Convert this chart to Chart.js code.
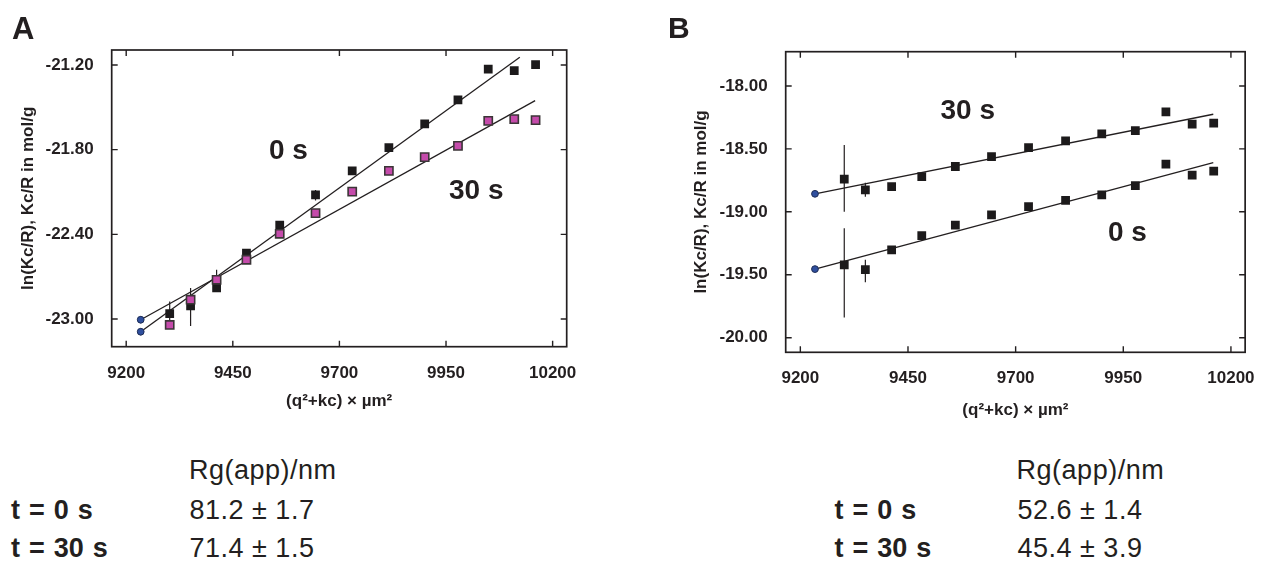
<!DOCTYPE html>
<html><head><meta charset="utf-8">
<script src="https://cdn.jsdelivr.net/npm/chart.js@4/dist/chart.umd.min.js"></script>
<style>
html,body{margin:0;padding:0;background:#fff;}
body{width:1263px;height:562px;position:relative;overflow:hidden;font-family:"Liberation Sans",Arial,sans-serif;color:#231f20;}
canvas{position:absolute;}
.t{position:absolute;line-height:1;white-space:nowrap;}
.b{font-weight:bold;}
.r{font-size:27px;letter-spacing:0.5px;}
.rb{font-size:27px;font-weight:bold;word-spacing:1.5px;}
</style></head><body>
<canvas id="cA" width="620" height="430" style="left:0;top:0"></canvas>
<canvas id="cB" width="623" height="430" style="left:640px;top:0"></canvas>

<div class="t b" style="left:12px;top:12.6px;font-size:31px">A</div>
<div class="t b" style="left:668px;top:12.8px;font-size:30px">B</div>
<div class="t b" style="left:269px;top:136.3px;font-size:28px">0 s</div>
<div class="t b" style="left:449px;top:176.3px;font-size:28px">30 s</div>
<div class="t b" style="left:940.5px;top:96.3px;font-size:28px">30 s</div>
<div class="t b" style="left:1108px;top:218px;font-size:28px">0 s</div>

<div class="t r" style="left:189px;top:457.1px">Rg(app)/nm</div>
<div class="t rb" style="left:11px;top:497.1px">t = 0 s</div>
<div class="t r" style="left:189.5px;top:497.1px">81.2 ± 1.7</div>
<div class="t rb" style="left:11px;top:535.4px">t = 30 s</div>
<div class="t r" style="left:189.5px;top:535.4px">71.4 ± 1.5</div>

<div class="t r" style="left:1016.6px;top:457.1px">Rg(app)/nm</div>
<div class="t rb" style="left:834.5px;top:497.1px">t = 0 s</div>
<div class="t r" style="left:1017.5px;top:497.1px">52.6 ± 1.4</div>
<div class="t rb" style="left:834.5px;top:535.4px">t = 30 s</div>
<div class="t r" style="left:1017.5px;top:535.4px">45.4 ± 3.9</div>

<script>
// ---- data ----
const qX = [9302, 9351, 9412, 9482, 9560, 9644, 9730, 9816, 9900, 9978, 10049, 10110, 10160];
const qX0 = 9234;
const xTicks = [9200, 9450, 9700, 9950, 10200];
const yTicksA = [-23.0, -22.4, -21.8, -21.2];
const yTicksB = [-20.0, -19.5, -19.0, -18.5, -18.0];

const a0s  = [-22.962, -22.906, -22.780, -22.533, -22.334, -22.120, -21.950, -21.785, -21.618, -21.448, -21.230, -21.240, -21.198];
const a30s = [-23.042, -22.863, -22.722, -22.580, -22.396, -22.250, -22.097, -21.950, -21.853, -21.773, -21.596, -21.584, -21.591];
const aExtrap = [-23.090, -23.005];           // 0 s, 30 s at q = 0 extrapolation
const aFit0X = [9234, 10123], aFit0Y = [-23.090, -21.146];
const aFit30X = [9234, 10159], aFit30Y = [-23.005, -21.453];
const aErrX = [9302, 9351, 9412, 9644, 9234, 9234];
const aErrLo = [-23.03, -23.05, -22.78, -22.16, -23.115, -23.03];
const aErrHi = [-22.875, -22.78, -22.65, -22.085, -23.065, -22.98];

const b30s = [-18.740, -18.825, -18.799, -18.720, -18.640, -18.561, -18.490, -18.437, -18.381, -18.355, -18.206, -18.304, -18.296];
const b0s  = [-19.421, -19.460, -19.302, -19.190, -19.106, -19.024, -18.958, -18.910, -18.865, -18.791, -18.621, -18.709, -18.677];
const bExtrap = [-19.455, -18.857];           // 0 s, 30 s
const bFit0X = [9234, 10159], bFit0Y = [-19.455, -18.609];
const bFit30X = [9234, 10159], bFit30Y = [-18.857, -18.225];
const bErrX = [9302, 9351, 9302, 9351];
const bErrLo = [-19.00, -18.88, -19.84, -19.56];
const bErrHi = [-18.47, -18.77, -19.13, -19.38];

// ---- helpers ----
const INK = '#231f20';
Chart.defaults.font.family = '"Liberation Sans", Arial, sans-serif';
Chart.defaults.color = INK;

const pts = (xs, ys) => xs.map((x, i) => ({x, y: ys[i]}));

const framePlugin = {
  id: 'frame',
  beforeDatasetsDraw(chart, args, opts) {
    const {ctx} = chart, xs = chart.scales.x, ys = chart.scales.y;
    ctx.save(); ctx.strokeStyle = INK; ctx.lineWidth = 1.2;
    ctx.beginPath();
    opts.errX.forEach((x, i) => {
      const px = xs.getPixelForValue(x);
      ctx.moveTo(px, ys.getPixelForValue(opts.errLo[i]));
      ctx.lineTo(px, ys.getPixelForValue(opts.errHi[i]));
    });
    ctx.stroke(); ctx.restore();
  },
  afterDraw(chart) {
    const {ctx, chartArea: a} = chart, xs = chart.scales.x, ys = chart.scales.y;
    ctx.save(); ctx.strokeStyle = INK; ctx.lineWidth = 1.7;
    ctx.strokeRect(a.left, a.top, a.right - a.left, a.bottom - a.top);
    ctx.lineWidth = 1.4; const L = 6;
    ctx.beginPath();
    xs.ticks.forEach((t, i) => { const p = xs.getPixelForTick(i);
      ctx.moveTo(p, a.bottom); ctx.lineTo(p, a.bottom - L);
      ctx.moveTo(p, a.top); ctx.lineTo(p, a.top + L); });
    ys.ticks.forEach((t, i) => { const p = ys.getPixelForTick(i);
      ctx.moveTo(a.left, p); ctx.lineTo(a.left + L, p);
      ctx.moveTo(a.right, p); ctx.lineTo(a.right - L, p); });
    ctx.stroke(); ctx.restore();
  }
};

function makeChart(id, cfg) {
  const datasets = [
    {data: pts(cfg.fit0X, cfg.fit0Y), showLine: true, borderColor: INK, borderWidth: 1.3, pointRadius: 0, order: 5},
    {data: pts(cfg.fit30X, cfg.fit30Y), showLine: true, borderColor: INK, borderWidth: 1.3, pointRadius: 0, order: 5},
    {data: pts(qX, cfg.s0), pointStyle: 'rect', pointRadius: 6.2, backgroundColor: '#1c1a1b', borderColor: '#1c1a1b', borderWidth: 0, order: 2},
    {data: pts(qX, cfg.s30), pointStyle: 'rect', pointRadius: cfg.pink ? 5.8 : 6.2,
      backgroundColor: cfg.pink ? '#c54bab' : '#1c1a1b', borderColor: cfg.pink ? '#3b3537' : '#1c1a1b',
      borderWidth: cfg.pink ? 1.6 : 0, order: 1},
    {data: pts([qX0, qX0], cfg.extrap), pointStyle: 'circle', pointRadius: 3.4, backgroundColor: '#2f4f9e', borderColor: '#1d2c55', borderWidth: 1, order: 0}
  ];
  return new Chart(document.getElementById(id), {
    type: 'scatter',
    data: {datasets},
    plugins: [framePlugin],
    options: {
      responsive: false, animation: false, devicePixelRatio: 1,
      layout: {padding: {left: 0, top: cfg.padTop, right: cfg.padRight, bottom: 0}},
      plugins: {legend: {display: false}, tooltip: {enabled: false},
        frame: {errX: cfg.errX, errLo: cfg.errLo, errHi: cfg.errHi}},
      scales: {
        x: {type: 'linear', min: 9166, max: 10233,
          grid: {display: false}, border: {display: false},
          afterBuildTicks: s => { s.ticks = xTicks.map(v => ({value: v})); },
          afterFit: s => { s.height = cfg.xH; },
          ticks: {padding: 8, font: {size: 17, weight: 'bold'}, color: INK, callback: v => String(v), maxRotation: 0, autoSkip: false},
          title: {display: true, text: '(q²+kc) × µm²', font: {size: 17, weight: 'bold'}, color: INK, padding: {top: 0, bottom: cfg.xTitlePad}}
        },
        y: {type: 'linear', min: cfg.yMin, max: cfg.yMax,
          grid: {display: false}, border: {display: false},
          afterBuildTicks: s => { s.ticks = cfg.yTicks.map(v => ({value: v})); },
          afterFit: s => { s.width = cfg.yW; },
          ticks: {padding: 10, font: {size: 17, weight: 'bold'}, color: INK, callback: v => v.toFixed(2), autoSkip: false},
          title: {display: true, text: 'ln(Kc/R), Kc/R in mol/g', font: {size: 17, weight: 'bold'}, color: INK, padding: {top: cfg.yTitlePad, bottom: 0}}
        }
      }
    }
  });
}

makeChart('cA', {
  s0: a0s, s30: a30s, extrap: aExtrap, pink: true,
  fit0X: aFit0X, fit0Y: aFit0Y, fit30X: aFit30X, fit30Y: aFit30Y,
  errX: aErrX, errLo: aErrLo, errHi: aErrHi,
  yTicks: yTicksA, yMin: -23.196, yMax: -21.094,
  padTop: 50, padRight: 53.3, yW: 111.7, xH: 83.3, xTitlePad: 18.8, yTitlePad: 18
});
makeChart('cB', {
  s0: b0s, s30: b30s, extrap: bExtrap, pink: false,
  fit0X: bFit0X, fit0Y: bFit0Y, fit30X: bFit30X, fit30Y: bFit30Y,
  errX: bErrX, errLo: bErrLo, errHi: bErrHi,
  yTicks: yTicksB, yMin: -20.116, yMax: -17.728,
  padTop: 51.7, padRight: 14, yW: 145.7, xH: 77.7, xTitlePad: 9.8, yTitlePad: 51.5
});
</script>
</body></html>
